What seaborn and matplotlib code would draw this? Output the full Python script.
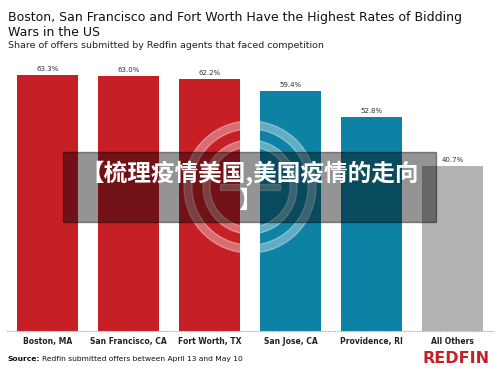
import numpy as np
import pandas as pd
import matplotlib
matplotlib.use("Agg")
import matplotlib.pyplot as plt
import matplotlib.patches as mpatches
import seaborn as sns

# datos del gráfico
ciudades = ["Boston, MA", "San Francisco, CA", "Fort Worth, TX",
            "San Jose, CA", "Providence, RI", "All Others"]
porcentajes = [63.3, 63.0, 62.2, 59.4, 52.8, 40.7]
colores = ["#C62026", "#C62026", "#C62026", "#0E82A4", "#0E82A4", "#B2B2B2"]

df = pd.DataFrame({"ciudad": ciudades, "pct": porcentajes})

sns.set_theme(style="white")
plt.rcParams["font.family"] = ["DejaVu Sans"]

fig = plt.figure(figsize=(5, 3.75), dpi=100)
ax = fig.add_axes([0.014, 0.1173, 0.972, 0.7227])

sns.barplot(data=df, x="ciudad", y="pct", hue="ciudad", palette=colores,
            width=0.75, legend=False, ax=ax, saturation=1, linewidth=0)

ax.set_ylim(0, 67)
ax.set_xlim(-0.5, len(ciudades) - 0.5)
ax.set_xlabel("")
ax.set_ylabel("")
ax.set_yticks([])
for s in ["top", "right", "left"]:
    ax.spines[s].set_visible(False)
ax.spines["bottom"].set_color("#BBBBBB")
ax.spines["bottom"].set_linestyle(":")
ax.spines["bottom"].set_linewidth(0.8)
ax.tick_params(axis="x", length=0, pad=4)
for lbl in ax.get_xticklabels():
    lbl.set_fontsize(5.5)
    lbl.set_fontweight("bold")
    lbl.set_color("#222222")

# etiquetas de valor
for i, v in enumerate(porcentajes):
    ax.text(i, v + 0.8, f"{v:.1f}%", ha="center", va="bottom",
            fontsize=5, color="#333333")

# títulos
fig.text(0.016, 1 - 17 / 375, "Boston, San Francisco and Fort Worth Have the Highest Rates of Bidding",
         fontsize=9.0, color="#111111", va="center")
fig.text(0.016, 1 - 33 / 375, "Wars in the US",
         fontsize=9.0, color="#111111", va="center")
fig.text(0.016, 1 - 45.5 / 375, "Share of offers submitted by Redfin agents that faced competition",
         fontsize=6.8, color="#222222", va="center")

# fuente
fuente = fig.text(0.016, 0.043, "Source:", fontsize=5.4, fontweight="bold",
                  color="#111111", va="center")
fig.canvas.draw()
ext = fuente.get_window_extent()
fig.text((ext.x1 + 1) / 500, 0.043, "Redfin submitted offers between April 13 and May 10",
         fontsize=5.4, color="#111111", va="center")
fig.text(0.98, 0.043, "REDFIN", fontsize=11.5, fontweight="bold", color="#C62026",
         ha="right", va="center")

# marca de agua circular
for r, w in [(66, 8), (47, 7)]:
    ring = mpatches.Wedge((250, 375 - 187), r, 0, 360, width=w,
                          transform=None, color="white", alpha=0.35)
    fig.patches.append(ring)
bar = mpatches.Rectangle((250 - 30, 375 - 190), 60, 6, transform=None,
                         color="white", alpha=0.35)
fig.patches.append(bar)

# caja oscura con texto
caja = mpatches.Rectangle((63 / 500, 1 - 222 / 375), 373 / 500, 70 / 375,
                          transform=fig.transFigure, color="black", alpha=0.42)
fig.patches.append(caja)
fig.text(0.5, 1 - 187 / 375, "【梳理疫情美国,美国疫情的走向\n】",
         family=["Noto Sans CJK SC", "DejaVu Sans"], fontsize=17, fontweight="bold",
         color="white", ha="center", va="center", multialignment="center",
         linespacing=1.15)

fig.savefig("out.png", dpi=100)
